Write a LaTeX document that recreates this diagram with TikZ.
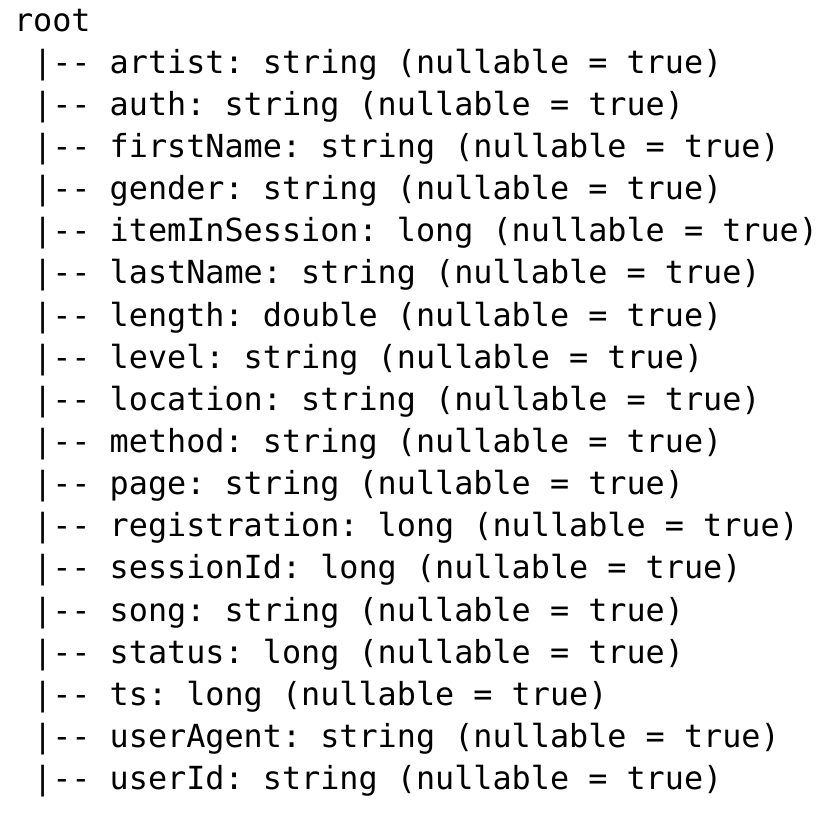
\documentclass[tikz,border=0pt]{standalone}
\usepackage{fontspec}
\setmonofont{DejaVu Sans Mono}
\begin{document}
\begin{tikzpicture}[x=1pt,y=-1pt,
  line/.style={anchor=base west,inner sep=0pt,outer sep=0pt,
    font=\ttfamily\fontsize{31.8}{38}\selectfont,text=black}]
\fill[white] (0,0) rectangle (831,828);
\useasboundingbox (0,0) rectangle (831,828);
\def\cw{19.15}
\def\lh{42.15}
\node[line] (root) at (14,31) {root};
\foreach \t [count=\i] in {
 artist: string (nullable = true),
 auth: string (nullable = true),
 firstName: string (nullable = true),
 gender: string (nullable = true),
 itemInSession: long (nullable = true),
 lastName: string (nullable = true),
 length: double (nullable = true),
 level: string (nullable = true),
 location: string (nullable = true),
 method: string (nullable = true),
 page: string (nullable = true),
 registration: long (nullable = true),
 sessionId: long (nullable = true),
 song: string (nullable = true),
 status: long (nullable = true),
 ts: long (nullable = true),
 userAgent: string (nullable = true),
 userId: string (nullable = true)}
{
  \node[line] (f\i) at (14+\cw,31+\i*\lh) {|-- \t};
}
\end{tikzpicture}
\end{document}
